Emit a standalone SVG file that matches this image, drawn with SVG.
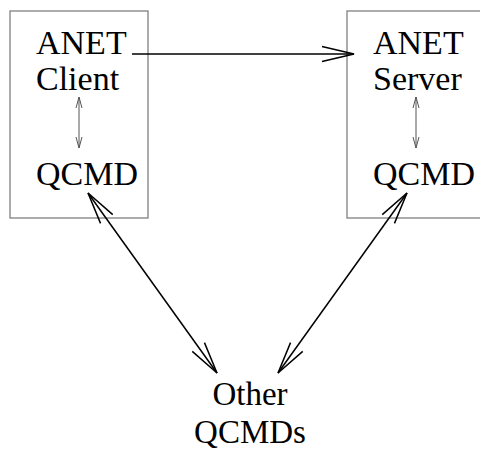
<svg xmlns="http://www.w3.org/2000/svg" width="480" height="449" viewBox="0 0 480 449">
<style>
.box{fill:none;stroke:#808080;stroke-width:1.3}
.t{font-family:"Liberation Serif","Times New Roman",serif;font-size:34px;fill:#000}
.b{font-size:33px}
.c{fill:none;stroke:#000;stroke-width:1.5}
.s{fill:none;stroke:#555;stroke-width:1}
</style>
<defs>
<marker id="big" markerUnits="userSpaceOnUse" viewBox="-34 -9 36 18" refX="0" refY="0" markerWidth="36" markerHeight="18" orient="auto-start-reverse">
<path d="M-32,-7.5 L0,0 L-32,7.5" fill="none" stroke="#000" stroke-width="1.5"/>
</marker>
<marker id="sm" markerUnits="userSpaceOnUse" viewBox="-12 -5 14 10" refX="0" refY="0" markerWidth="14" markerHeight="10" orient="auto-start-reverse">
<path d="M-11,-3 L0,0 L-11,3" fill="none" stroke="#555" stroke-width="1"/>
</marker>
</defs>
<g id="client">
<rect class="box" x="10" y="11" width="138" height="207"/>
<text class="t" x="36" y="54">ANET</text>
<text class="t" x="36" y="90">Client</text>
<text class="t" x="36" y="185">QCMD</text>
</g>
<g id="server">
<rect class="box" x="347" y="11" width="140" height="207"/>
<text class="t" x="373" y="54">ANET</text>
<text class="t" x="373" y="90">Server</text>
<text class="t" x="373" y="185">QCMD</text>
</g>
<g id="other">
<text class="t b" x="250" y="405" text-anchor="middle">Other</text>
<text class="t b" x="250" y="443" text-anchor="middle">QCMDs</text>
</g>
<g id="connectors">
<line class="c" x1="132" y1="54" x2="354" y2="54" marker-end="url(#big)"/>
<line class="c" x1="88" y1="193" x2="217" y2="373" marker-start="url(#big)" marker-end="url(#big)"/>
<line class="c" x1="407" y1="193" x2="278" y2="373" marker-start="url(#big)" marker-end="url(#big)"/>
<line class="s" x1="79" y1="97" x2="79" y2="148" marker-start="url(#sm)" marker-end="url(#sm)"/>
<line class="s" x1="416" y1="97" x2="416" y2="148" marker-start="url(#sm)" marker-end="url(#sm)"/>
</g>
</svg>
